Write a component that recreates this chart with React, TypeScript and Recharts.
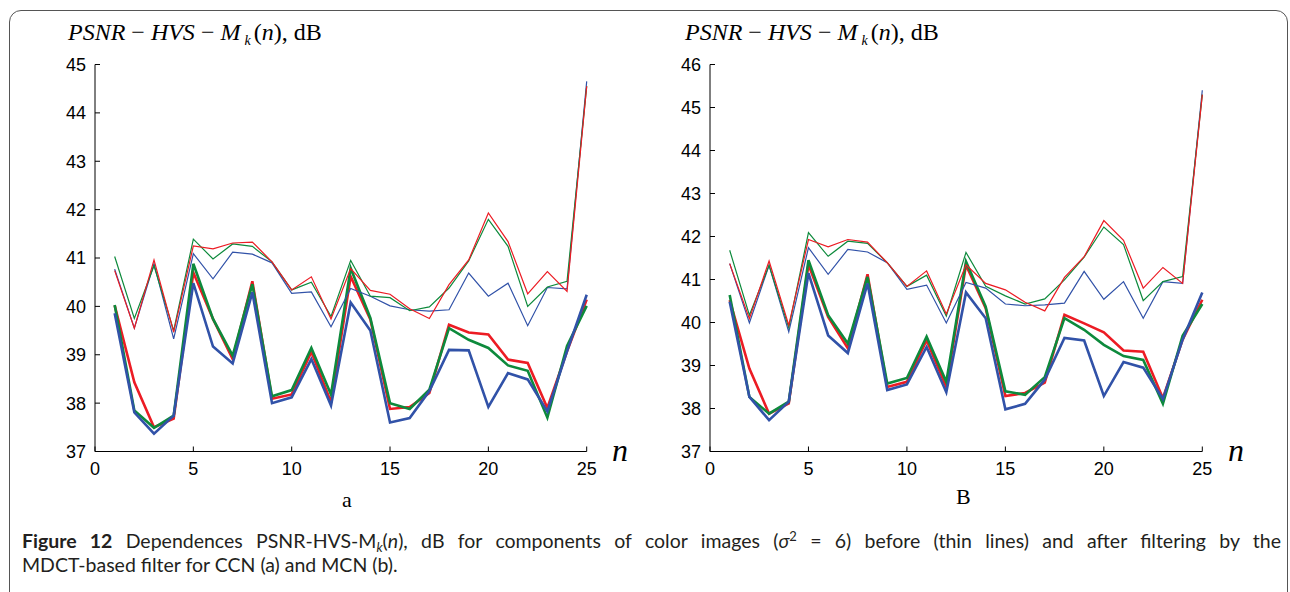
import React from "react";
import { LineChart, Line, XAxis, YAxis } from "recharts";

// frame index n
const n = [1, 2, 3, 4, 5, 6, 7, 8, 9, 10, 11, 12, 13, 14, 15, 16, 17, 18, 19, 20, 21, 22, 23, 24, 25];
const xTicks = [0, 5, 10, 15, 20, 25];
const yTicksA = [37, 38, 39, 40, 41, 42, 43, 44, 45];
const yTicksB = [37, 38, 39, 40, 41, 42, 43, 44, 45, 46];

// (a) CCN - before filtering (thin)
const beforeRedA = [40.74, 39.55, 40.96, 39.47, 41.25, 41.19, 41.31, 41.33, 40.92, 40.34, 40.61, 39.74, 40.78, 40.33, 40.25, 39.95, 39.75, 40.45, 40.96, 41.93, 41.34, 40.26, 40.72, 40.31, 44.55];
const beforeGreenA = [41.03, 39.75, 40.84, 39.5, 41.39, 40.98, 41.29, 41.24, 40.92, 40.34, 40.5, 39.79, 40.95, 40.21, 40.18, 39.91, 39.99, 40.38, 40.94, 41.8, 41.24, 40.0, 40.4, 40.52, 44.55];
const beforeBlueA = [40.77, 39.55, 40.88, 39.33, 41.09, 40.57, 41.12, 41.08, 40.9, 40.27, 40.3, 39.58, 40.37, 40.21, 40.01, 39.93, 39.9, 39.93, 40.69, 40.21, 40.48, 39.6, 40.39, 40.36, 44.65];
// (a) CCN - after filtering (thick)
const afterRedA = [40.02, 38.43, 37.5, 37.68, 40.7, 39.74, 38.91, 40.52, 38.09, 38.18, 39.06, 38.02, 40.62, 39.73, 37.88, 37.92, 38.21, 39.62, 39.46, 39.42, 38.9, 38.83, 37.9, 39.07, 40.14];
const afterGreenA = [40.03, 37.85, 37.49, 37.74, 40.88, 39.74, 38.98, 40.46, 38.14, 38.27, 39.14, 38.18, 40.79, 39.76, 38.0, 37.88, 38.28, 39.55, 39.31, 39.14, 38.78, 38.67, 37.7, 39.18, 40.01];
const afterBlueA = [39.86, 37.81, 37.37, 37.74, 40.48, 39.17, 38.82, 40.29, 38.0, 38.12, 38.91, 37.95, 40.08, 39.5, 37.6, 37.69, 38.25, 39.1, 39.09, 37.92, 38.62, 38.49, 37.83, 39.07, 40.24];

// (b) MCN - before filtering (thin)
const beforeRedB = [41.37, 40.09, 41.43, 39.94, 41.93, 41.76, 41.93, 41.87, 41.39, 40.84, 41.2, 40.2, 41.34, 40.91, 40.76, 40.47, 40.27, 41.05, 41.53, 42.37, 41.91, 40.8, 41.28, 40.91, 45.3];
const beforeGreenB = [41.68, 40.17, 41.33, 39.88, 42.09, 41.54, 41.89, 41.84, 41.39, 40.84, 41.1, 40.15, 41.63, 40.84, 40.62, 40.43, 40.55, 40.99, 41.52, 42.22, 41.81, 40.51, 40.95, 41.07, 45.3];
const beforeBlueB = [41.37, 39.99, 41.33, 39.78, 41.74, 41.12, 41.7, 41.64, 41.39, 40.77, 40.87, 39.99, 40.93, 40.8, 40.43, 40.39, 40.41, 40.45, 41.19, 40.54, 40.95, 40.1, 40.95, 40.91, 45.4];
// (b) MCN - after filtering (thick)
const afterRedB = [40.52, 38.93, 37.88, 38.12, 41.35, 40.13, 39.4, 41.12, 38.5, 38.62, 39.59, 38.5, 41.34, 40.33, 38.29, 38.36, 38.6, 40.18, 39.98, 39.77, 39.35, 39.32, 38.24, 39.6, 40.53];
const afterGreenB = [40.64, 38.27, 37.88, 38.16, 41.45, 40.17, 39.51, 41.06, 38.58, 38.71, 39.67, 38.62, 41.42, 40.37, 38.4, 38.32, 38.73, 40.1, 39.83, 39.48, 39.22, 39.13, 38.11, 39.69, 40.43];
const afterBlueB = [40.48, 38.27, 37.73, 38.16, 41.15, 39.7, 39.29, 40.91, 38.43, 38.56, 39.43, 38.38, 40.7, 40.1, 37.98, 38.11, 38.67, 39.64, 39.58, 38.29, 39.08, 38.95, 38.22, 39.6, 40.7];

const RED = "#ec1c24";
const GREEN = "#0d8a3c";
const BLUE = "#3152a8";
const AX = "#000";
const TICK_FONT = "'Liberation Sans', Arial, sans-serif";
const SERIF = "'Liberation Serif', 'Times New Roman', serif";

const rowsA = n.map((v, i) => ({
  n: v,
  br: beforeRedA[i], bg: beforeGreenA[i], bb: beforeBlueA[i],
  ar: afterRedA[i], ag: afterGreenA[i], ab: afterBlueA[i],
}));
const rowsB = n.map((v, i) => ({
  n: v,
  br: beforeRedB[i], bg: beforeGreenB[i], bb: beforeBlueB[i],
  ar: afterRedB[i], ag: afterGreenB[i], ab: afterBlueB[i],
}));

// MATLAB-style ticks: marks point inward, labels outside
const LeftTick = (p: any) => (
  <g>
    <line x1={p.x + 9} x2={p.x + 14} y1={p.y} y2={p.y} stroke={AX} />
    <text x={p.x} y={p.y} dy="0.36em" textAnchor="end" fontSize={18} fontFamily={TICK_FONT} fill="#000">
      {p.payload.value}
    </text>
  </g>
);
const BottomTick = (p: any) => (
  <g>
    <line x1={p.x} x2={p.x} y1={p.y - 10} y2={p.y - 15} stroke={AX} />
    <text x={p.x} y={p.y} dy="0.76em" textAnchor="middle" fontSize={18} fontFamily={TICK_FONT} fill="#000">
      {p.payload.value}
    </text>
  </g>
);
const TopTick = (p: any) => <line x1={p.x} x2={p.x} y1={p.y} y2={p.y + 5} stroke={AX} />;
const RightTick = (p: any) => <line x1={p.x} x2={p.x - 5} y1={p.y} y2={p.y} stroke={AX} />;

function Panel({ rows, yTicks, yAxisWidth, marginRight }: any) {
  const yDomain = [yTicks[0], yTicks[yTicks.length - 1]];
  return (
    <LineChart width={645} height={592} data={rows} margin={{ top: 64.5, right: marginRight, bottom: 110.5, left: 0 }}>
      <XAxis dataKey="n" type="number" domain={[0, 25]} ticks={xTicks} height={30} tickSize={0} tickMargin={10}
        axisLine={{ stroke: AX }} tickLine={false} tick={<BottomTick />} interval={0} />
      <XAxis xAxisId="top" orientation="top" type="number" domain={[0, 25]} ticks={xTicks} height={0}
        tickSize={0} tickMargin={0} axisLine={{ stroke: AX }} tickLine={false} tick={<TopTick />} interval={0} allowDataOverflow />
      <YAxis type="number" domain={yDomain} ticks={yTicks} width={yAxisWidth} tickSize={0} tickMargin={9}
        axisLine={{ stroke: AX }} tickLine={false} tick={<LeftTick />} interval={0} allowDataOverflow />
      <YAxis yAxisId="right" orientation="right" type="number" domain={yDomain} ticks={yTicks} width={0}
        tickSize={0} tickMargin={0} axisLine={{ stroke: AX }} tickLine={false} tick={<RightTick />} interval={0} allowDataOverflow />
      <Line type="linear" dataKey="ar" stroke={RED} strokeWidth={2.6} dot={false} isAnimationActive={false} />
      <Line type="linear" dataKey="ag" stroke={GREEN} strokeWidth={2.6} dot={false} isAnimationActive={false} />
      <Line type="linear" dataKey="ab" stroke={BLUE} strokeWidth={2.6} dot={false} isAnimationActive={false} />
      <Line type="linear" dataKey="bb" stroke={BLUE} strokeWidth={1.2} dot={false} isAnimationActive={false} />
      <Line type="linear" dataKey="bg" stroke={GREEN} strokeWidth={1.2} dot={false} isAnimationActive={false} />
      <Line type="linear" dataKey="br" stroke={RED} strokeWidth={1.2} dot={false} isAnimationActive={false} />
    </LineChart>
  );
}

const YLabel = ({ left }: { left: number }) => (
  <div style={{ position: "absolute", left, top: 17, fontFamily: SERIF, fontSize: 24, color: "#000", whiteSpace: "nowrap", lineHeight: "30px" }}>
    <i>PSNR</i> − <i>HVS</i> − <i>M</i>
    <span style={{ fontSize: 14, fontStyle: "italic", position: "relative", top: 5, marginLeft: 4, marginRight: 3 }}>k</span>
    (<i>n</i>), dB
  </div>
);

const serifText = (left: number, top: number, size: number, txt: string, italic = false) => (
  <div style={{ position: "absolute", left, top, fontFamily: SERIF, fontSize: size, fontStyle: italic ? "italic" : "normal", color: "#000", lineHeight: 1 }}>
    {txt}
  </div>
);

const small: React.CSSProperties = { fontSize: 13, position: "relative", lineHeight: 0 };

export default function App() {
  return (
    <div style={{ position: "absolute", left: 0, top: 0, width: 1290, height: 592, background: "#fff", overflow: "hidden" }}>
      <div style={{ position: "absolute", left: 9, top: 10, width: 1277, height: 600, border: "1.5px solid #555", borderRadius: 12 }} />
      <div style={{ position: "absolute", left: 0, top: 0 }}>
        <Panel rows={rowsA} yTicks={yTicksA} yAxisWidth={95} marginRight={58.3} />
      </div>
      <div style={{ position: "absolute", left: 645, top: 0 }}>
        <Panel rows={rowsB} yTicks={yTicksB} yAxisWidth={65} marginRight={87.7} />
      </div>
      <YLabel left={68} />
      <YLabel left={685} />
      {serifText(612, 434, 32, "n", true)}
      {serifText(1228, 434, 32, "n", true)}
      {serifText(342, 489, 22, "a")}
      {serifText(956, 486, 22, "B")}
      <div style={{ position: "absolute", left: 22, top: 529, width: 1259, fontFamily: "Lato, 'Open Sans', sans-serif", fontSize: 19.5, color: "#231f20", lineHeight: "24px" }}>
        <div style={{ textAlign: "justify", textAlignLast: "justify", whiteSpace: "nowrap", height: 24 }}>
          <b>Figure 12</b> Dependences PSNR-HVS-M<span style={{ ...small, fontStyle: "italic", top: 4 }}>k</span>(<i>n</i>), dB for components of color images (<i>σ</i><span style={{ ...small, top: -7 }}>2</span> = 6) before (thin lines) and after filtering by the
        </div>
        <div style={{ height: 24 }}>MDCT-based filter for CCN (a) and MCN (b).</div>
      </div>
    </div>
  );
}
